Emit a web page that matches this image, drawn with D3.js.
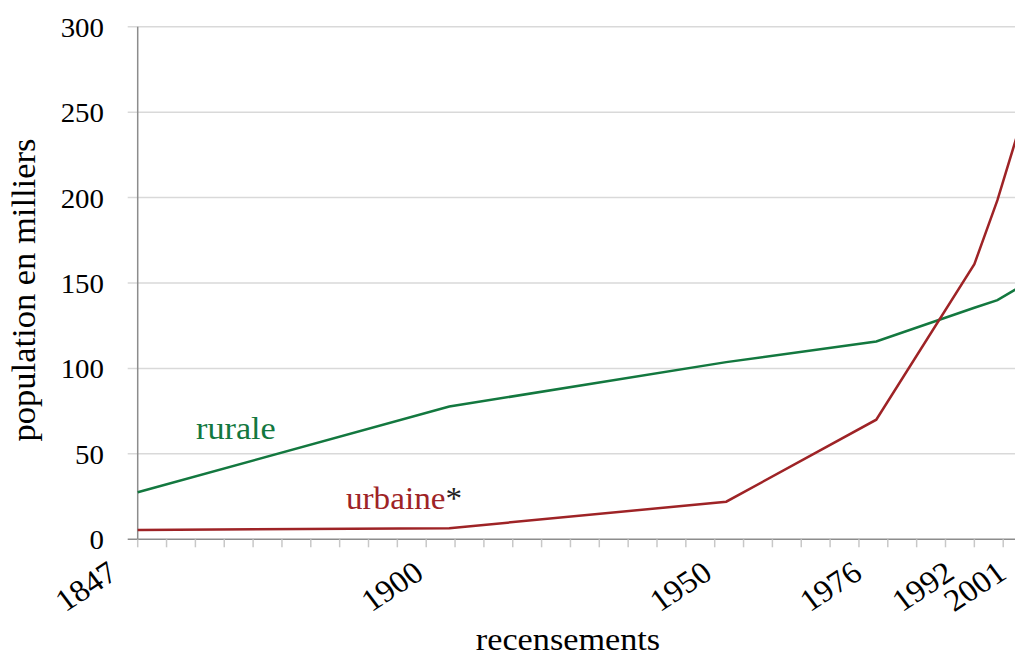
<!DOCTYPE html>
<html>
<head>
<meta charset="utf-8">
<script src="https://cdn.jsdelivr.net/npm/d3@7"></script>
<style>
  body { margin: 0; background: #fff; }
  svg { display: block; font-family: "Liberation Serif", "Times New Roman", serif; }
</style>
</head>
<body>
<div id="chart"></div>
<script>
// census years and population (thousands)
const years = [1847, 1901, 1949, 1975, 1992, 1996, 2001];
const rurale = [27.5, 77.7, 103.7, 115.8, 135.5, 140, 150];
const urbaine = [5.5, 6.5, 22, 70, 161, 198.5, 254];
const yTicks = [0, 50, 100, 150, 200, 250, 300];
const labelYears = [1847, 1900, 1950, 1976, 1992, 2001];

const width = 1015, height = 656;
const plotLeft = 137.7, plotTop = 26.7, plotBottom = 539.3;
const stretch = 1.07; // the original text is slightly wide

const x = d3.scaleLinear().domain([1847, 2001]).range([plotLeft, plotLeft + 154 * 5.77]);
const y = d3.scaleLinear().domain([0, 300]).range([plotBottom, plotTop]);

const svg = d3.select("#chart").append("svg")
  .attr("width", width)
  .attr("height", height);

// gridlines + y ticks
svg.append("g").selectAll("line")
  .data(yTicks)
  .enter().append("line")
  .attr("x1", plotLeft - 10).attr("x2", width)
  .attr("y1", d => y(d)).attr("y2", d => y(d))
  .attr("stroke", d => d === 0 ? "#8c8c8c" : "#d9d9d9")
  .attr("stroke-width", 1.5);

svg.append("g").selectAll("text")
  .data(yTicks)
  .enter().append("text")
  .attr("transform", d => `translate(104,${y(d) + 10}) scale(${stretch},1)`)
  .attr("text-anchor", "end")
  .style("font-size", "27px")
  .text(d => d);

// minor ticks on the x axis, every 5 years
svg.append("g").selectAll("line")
  .data(d3.range(1847, 2010, 5))
  .enter().append("line")
  .attr("x1", d => x(d)).attr("x2", d => x(d))
  .attr("y1", plotBottom).attr("y2", plotBottom + 8)
  .attr("stroke", "#c8c8c8")
  .attr("stroke-width", 1.5);

// left axis line
svg.append("line")
  .attr("x1", plotLeft).attr("x2", plotLeft)
  .attr("y1", plotTop).attr("y2", plotBottom)
  .attr("stroke", "#8c8c8c")
  .attr("stroke-width", 1.5);

// x labels, slanted
svg.append("g").selectAll("text")
  .data(labelYears)
  .enter().append("text")
  .attr("transform", d => `translate(${x(d) - 18},577) scale(${stretch},1) rotate(-35)`)
  .attr("text-anchor", "end")
  .style("font-size", "31px")
  .text(d => d);

const line = d3.line()
  .x(d => x(d[0]))
  .y(d => y(d[1]));

svg.append("path")
  .datum(years.map((yr, i) => [yr, rurale[i]]))
  .attr("d", line)
  .attr("fill", "none")
  .attr("stroke", "#13783f")
  .attr("stroke-width", 2.5);

svg.append("path")
  .datum(years.map((yr, i) => [yr, urbaine[i]]))
  .attr("d", line)
  .attr("fill", "none")
  .attr("stroke", "#9e2326")
  .attr("stroke-width", 2.5);

// series names
svg.append("text")
  .attr("transform", `translate(196,439) scale(${stretch},1)`)
  .attr("fill", "#13783f")
  .style("font-size", "32px")
  .text("rurale");

const urb = svg.append("text")
  .attr("transform", `translate(346,509) scale(${stretch},1)`)
  .style("font-size", "31px");
urb.append("tspan").attr("fill", "#9e2326").text("urbaine");
urb.append("tspan").attr("fill", "#222").text("*");

// axis titles
svg.append("text")
  .attr("transform", `translate(568,650) scale(${stretch},1)`)
  .attr("text-anchor", "middle")
  .style("font-size", "32px")
  .text("recensements");

svg.append("text")
  .attr("transform", "translate(35,290) rotate(-90)")
  .attr("text-anchor", "middle")
  .style("font-size", "34.5px")
  .text("population en milliers");
</script>
</body>
</html>
